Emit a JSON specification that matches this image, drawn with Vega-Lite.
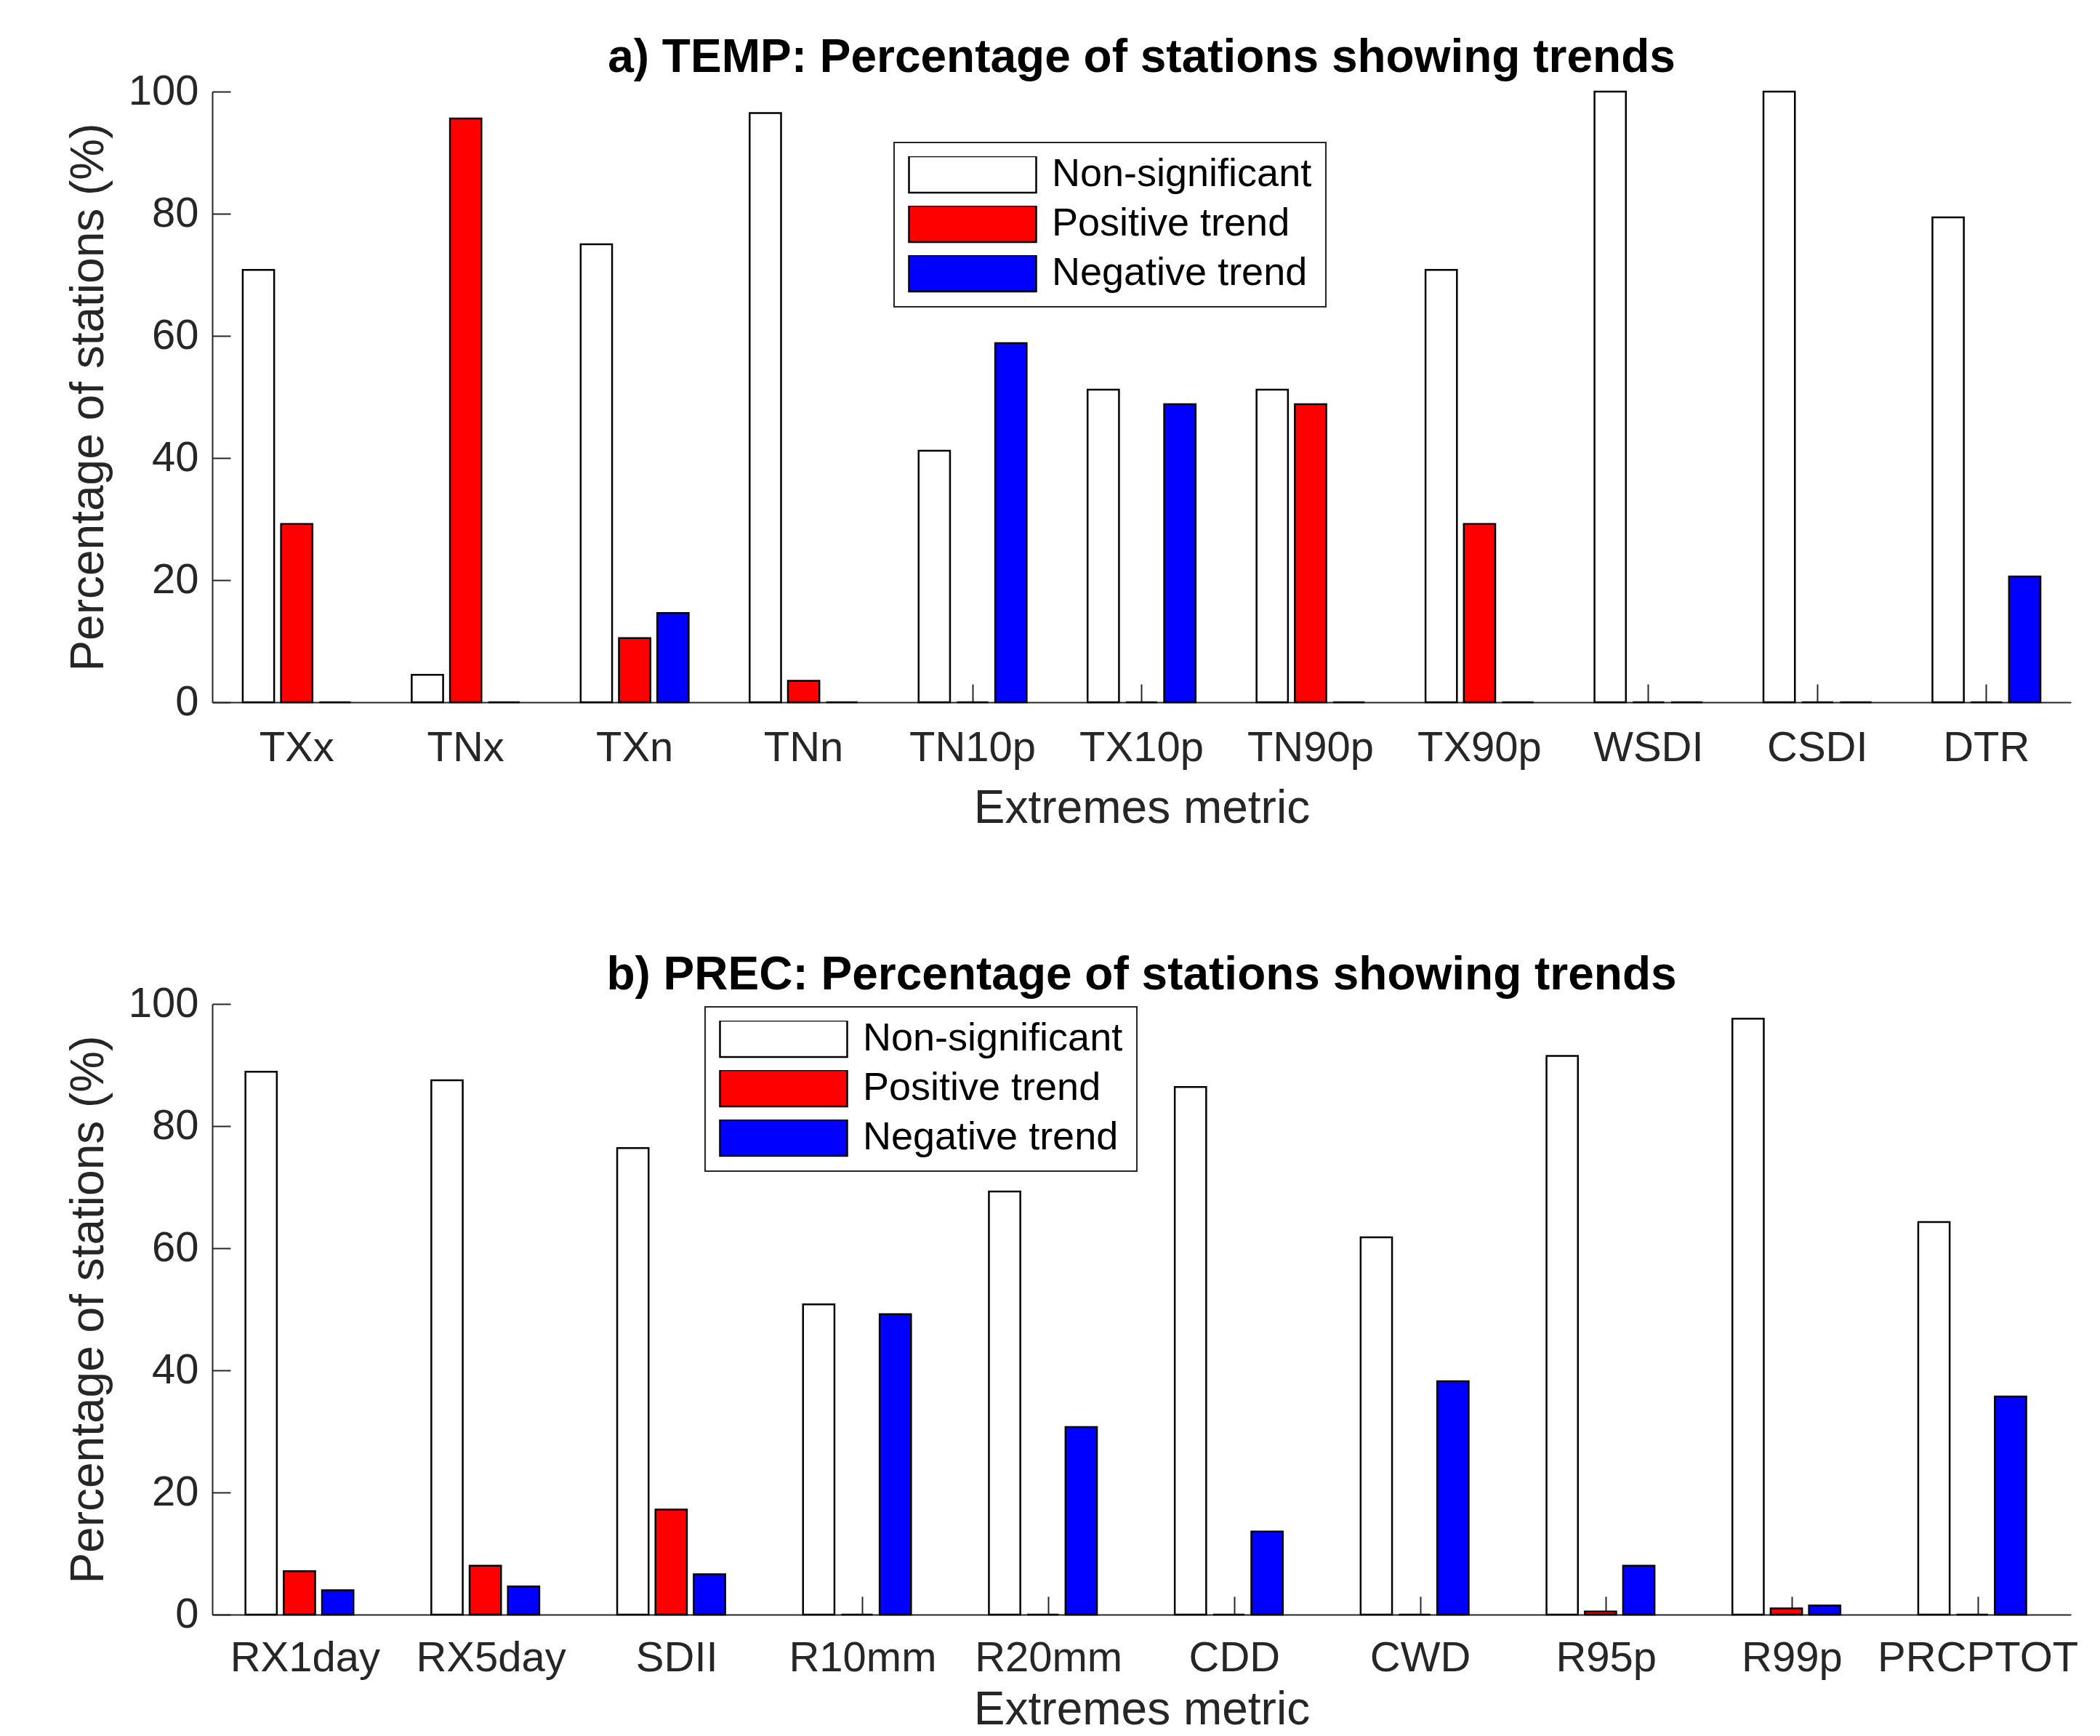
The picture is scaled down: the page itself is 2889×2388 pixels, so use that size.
{
  "$schema": "https://vega.github.io/schema/vega-lite/v6.json",
  "background": "white",
  "padding": {"left": 90, "top": 48, "right": 20, "bottom": 0},
  "config": {
    "font": "Liberation Sans",
    "view": {"stroke": null},
    "concat": {"spacing": 166},
    "axis": {
      "labelFont": "Liberation Sans", "labelFontSize": 58, "labelColor": "#262626", "labelLimit": 0,
      "titleFont": "Liberation Sans", "titleFontSize": 64, "titleFontWeight": "normal", "titleColor": "#262626",
      "domainColor": "#262626", "domainWidth": 2, "tickColor": "#262626", "tickWidth": 2, "tickSize": -25, "grid": false
    },
    "axisX": {"labelPadding": 59, "titlePadding": 22, "labelAngle": 0},
    "axisY": {"labelPadding": 44, "titlePadding": 22},
    "title": {"font": "Liberation Sans", "fontSize": 64, "fontWeight": "bold", "color": "black", "anchor": "middle", "frame": "group"},
    "legend": {
      "title": null, "orient": "none",
      "symbolType": "M-1,-0.2857H1V0.2857H-1Z", "symbolSize": 30625, "clipHeight": 50, "rowPadding": 14,
      "labelFont": "Liberation Sans", "labelFontSize": 54, "labelColor": "black", "labelOffset": 20, "labelLimit": 0,
      "padding": 19, "strokeColor": "#262626", "strokeWidth": 2, "fillColor": "white",
      "symbolStrokeColor": "black", "symbolStrokeWidth": 2.5, "symbolOpacity": 1
    }
  },
  "datasets": {
    "temp": [
      {"metric": "TXx", "type": "Non-significant", "value": 70.8},
      {"metric": "TXx", "type": "Positive trend", "value": 29.2},
      {"metric": "TXx", "type": "Negative trend", "value": 0},
      {"metric": "TNx", "type": "Non-significant", "value": 4.5},
      {"metric": "TNx", "type": "Positive trend", "value": 95.6},
      {"metric": "TNx", "type": "Negative trend", "value": 0},
      {"metric": "TXn", "type": "Non-significant", "value": 75.0},
      {"metric": "TXn", "type": "Positive trend", "value": 10.5},
      {"metric": "TXn", "type": "Negative trend", "value": 14.6},
      {"metric": "TNn", "type": "Non-significant", "value": 96.5},
      {"metric": "TNn", "type": "Positive trend", "value": 3.5},
      {"metric": "TNn", "type": "Negative trend", "value": 0},
      {"metric": "TN10p", "type": "Non-significant", "value": 41.2},
      {"metric": "TN10p", "type": "Positive trend", "value": 0},
      {"metric": "TN10p", "type": "Negative trend", "value": 58.8},
      {"metric": "TX10p", "type": "Non-significant", "value": 51.2},
      {"metric": "TX10p", "type": "Positive trend", "value": 0},
      {"metric": "TX10p", "type": "Negative trend", "value": 48.8},
      {"metric": "TN90p", "type": "Non-significant", "value": 51.2},
      {"metric": "TN90p", "type": "Positive trend", "value": 48.8},
      {"metric": "TN90p", "type": "Negative trend", "value": 0},
      {"metric": "TX90p", "type": "Non-significant", "value": 70.8},
      {"metric": "TX90p", "type": "Positive trend", "value": 29.2},
      {"metric": "TX90p", "type": "Negative trend", "value": 0},
      {"metric": "WSDI", "type": "Non-significant", "value": 100},
      {"metric": "WSDI", "type": "Positive trend", "value": 0},
      {"metric": "WSDI", "type": "Negative trend", "value": 0},
      {"metric": "CSDI", "type": "Non-significant", "value": 100},
      {"metric": "CSDI", "type": "Positive trend", "value": 0},
      {"metric": "CSDI", "type": "Negative trend", "value": 0},
      {"metric": "DTR", "type": "Non-significant", "value": 79.4},
      {"metric": "DTR", "type": "Positive trend", "value": 0},
      {"metric": "DTR", "type": "Negative trend", "value": 20.6}
    ],
    "prec": [
      {"metric": "RX1day", "type": "Non-significant", "value": 88.9},
      {"metric": "RX1day", "type": "Positive trend", "value": 7.1},
      {"metric": "RX1day", "type": "Negative trend", "value": 4.0},
      {"metric": "RX5day", "type": "Non-significant", "value": 87.5},
      {"metric": "RX5day", "type": "Positive trend", "value": 8.0},
      {"metric": "RX5day", "type": "Negative trend", "value": 4.6},
      {"metric": "SDII", "type": "Non-significant", "value": 76.4},
      {"metric": "SDII", "type": "Positive trend", "value": 17.2},
      {"metric": "SDII", "type": "Negative trend", "value": 6.6},
      {"metric": "R10mm", "type": "Non-significant", "value": 50.8},
      {"metric": "R10mm", "type": "Positive trend", "value": 0},
      {"metric": "R10mm", "type": "Negative trend", "value": 49.2},
      {"metric": "R20mm", "type": "Non-significant", "value": 69.3},
      {"metric": "R20mm", "type": "Positive trend", "value": 0},
      {"metric": "R20mm", "type": "Negative trend", "value": 30.7},
      {"metric": "CDD", "type": "Non-significant", "value": 86.4},
      {"metric": "CDD", "type": "Positive trend", "value": 0},
      {"metric": "CDD", "type": "Negative trend", "value": 13.6},
      {"metric": "CWD", "type": "Non-significant", "value": 61.8},
      {"metric": "CWD", "type": "Positive trend", "value": 0},
      {"metric": "CWD", "type": "Negative trend", "value": 38.2},
      {"metric": "R95p", "type": "Non-significant", "value": 91.5},
      {"metric": "R95p", "type": "Positive trend", "value": 0.5},
      {"metric": "R95p", "type": "Negative trend", "value": 8.0},
      {"metric": "R99p", "type": "Non-significant", "value": 97.6},
      {"metric": "R99p", "type": "Positive trend", "value": 1.0},
      {"metric": "R99p", "type": "Negative trend", "value": 1.5},
      {"metric": "PRCPTOT", "type": "Non-significant", "value": 64.3},
      {"metric": "PRCPTOT", "type": "Positive trend", "value": 0},
      {"metric": "PRCPTOT", "type": "Negative trend", "value": 35.7}
    ]
  },
  "vconcat": [
    {
      "data": {"name": "temp"},
      "width": 2557,
      "height": 840,
      "title": {"text": "a) TEMP: Percentage of stations showing trends", "offset": -15},
      "mark": {"type": "bar", "stroke": "black", "strokeWidth": 2.5},
      "encoding": {
        "x": {"field": "metric", "type": "nominal", "sort": ["TXx","TNx","TXn","TNn","TN10p","TX10p","TN90p","TX90p","WSDI","CSDI","DTR"], "scale": {"paddingInner": 0.32, "paddingOuter": 0.16}, "axis": {"title": "Extremes metric"}},
        "xOffset": {"field": "type", "type": "nominal", "sort": ["Non-significant","Positive trend","Negative trend"], "scale": {"paddingInner": 0.18, "paddingOuter": 0.09}},
        "y": {"field": "value", "type": "quantitative", "scale": {"domain": [0, 100], "nice": false}, "axis": {"title": "Percentage of stations (%)", "values": [0,20,40,60,80,100]}},
        "fill": {"field": "type", "type": "nominal", "scale": {"domain": ["Non-significant","Positive trend","Negative trend"], "range": ["#ffffff","#ff0000","#0000ff"]}, "legend": {"legendX": 938, "legendY": 70}}
      }
    },
    {
      "data": {"name": "prec"},
      "width": 2557,
      "height": 840,
      "title": {"text": "b) PREC: Percentage of stations showing trends", "offset": -22},
      "mark": {"type": "bar", "stroke": "black", "strokeWidth": 2.5},
      "encoding": {
        "x": {"field": "metric", "type": "nominal", "sort": ["RX1day","RX5day","SDII","R10mm","R20mm","CDD","CWD","R95p","R99p","PRCPTOT"], "scale": {"paddingInner": 0.32, "paddingOuter": 0.16}, "axis": {"title": "Extremes metric", "labelPadding": 56, "titlePadding": 10}},
        "xOffset": {"field": "type", "type": "nominal", "sort": ["Non-significant","Positive trend","Negative trend"], "scale": {"paddingInner": 0.18, "paddingOuter": 0.09}},
        "y": {"field": "value", "type": "quantitative", "scale": {"domain": [0, 100], "nice": false}, "axis": {"title": "Percentage of stations (%)", "values": [0,20,40,60,80,100]}},
        "fill": {"field": "type", "type": "nominal", "scale": {"domain": ["Non-significant","Positive trend","Negative trend"], "range": ["#ffffff","#ff0000","#0000ff"]}, "legend": {"legendX": 678, "legendY": 4}}
      }
    }
  ],
  "resolve": {"scale": {"fill": "independent"}, "legend": {"fill": "independent"}}
}
